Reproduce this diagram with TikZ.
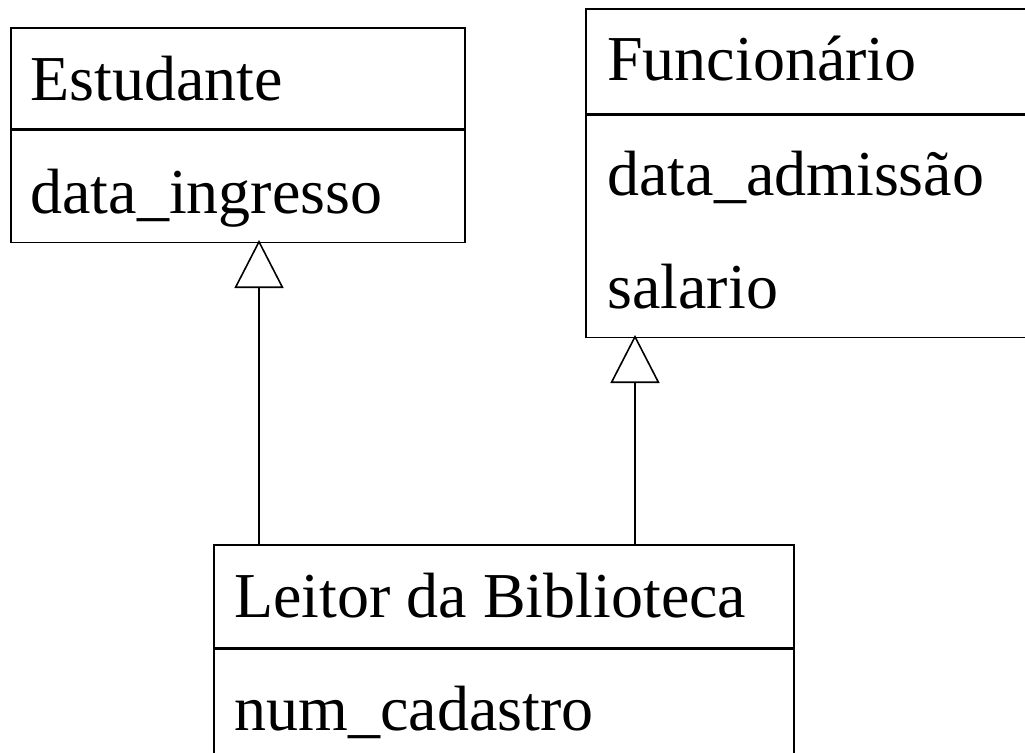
\documentclass[tikz,border=0pt]{standalone}
\usepackage{fontspec}
\setmainfont{Liberation Serif}
\usetikzlibrary{arrows.meta, positioning}

\tikzset{
  compart/.style={draw, line width=0.8pt, anchor=north west, inner sep=0pt},
  rotulo/.style={anchor=base west, inner sep=0pt, font=\fontsize{32}{38}\selectfont},
  heranca/.style={line width=0.8pt, -{Triangle[open, length=24pt, width=24.5pt]}},
}

\begin{document}
\begin{tikzpicture}[x=0.5pt, y=-0.5pt]
    \useasboundingbox (0,0) rectangle (1025,752);

    % Estudante
    \node[compart, minimum width=227pt, minimum height=50.5pt] (estCab) at (10,27) {};
    \node[compart, minimum width=227pt, minimum height=56pt] (estCorpo) at (estCab.south west) {};
    \node[rotulo] (estNome) at (30,100) {Estudante};
    \node[rotulo] (estAtr) at (30,213) {data\_ingresso};

    % Funcionario
    \node[compart, minimum width=230pt, minimum height=52.5pt] (funCab) at (585,8) {};
    \node[compart, minimum width=230pt, minimum height=111pt] (funCorpo) at (funCab.south west) {};
    \node[rotulo] (funNome) at (607,80) {Funcionário};
    \node[rotulo] (funAtr1) at (607,195) {data\_admissão};
    \node[rotulo] (funAtr2) at (607,308) {salario};

    % Leitor da Biblioteca
    \node[compart, minimum width=290pt, minimum height=51.5pt] (leiCab) at (213,544) {};
    \node[compart, minimum width=290pt, minimum height=56.5pt] (leiCorpo) at (leiCab.south west) {};
    \node[rotulo] (leiNome) at (234,617) {Leitor da Biblioteca};
    \node[rotulo] (leiAtr) at (234,730) {num\_cadastro};

    % heranca
    \coordinate (e1) at (259,240);
    \coordinate (f1) at (635,335);
    \draw[heranca] (leiCab.north -| e1) -- (e1);
    \draw[heranca] (leiCab.north -| f1) -- (f1);
\end{tikzpicture}
\end{document}
